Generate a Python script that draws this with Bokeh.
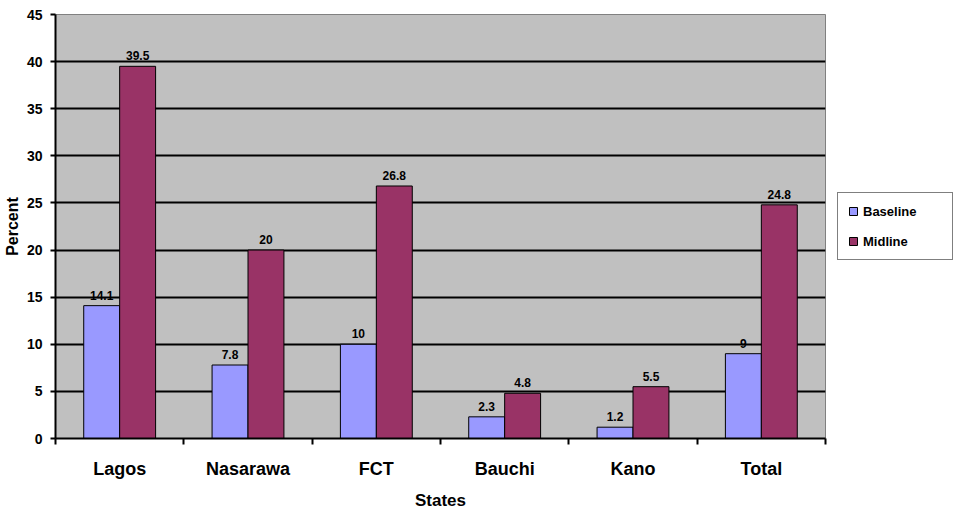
from bokeh.plotting import figure
from bokeh.models import ColumnDataSource, Range1d, FixedTicker, Legend, LegendItem
from bokeh.transform import dodge
from bokeh.core.properties import value
from bokeh.embed import file_html
from bokeh.resources import INLINE

# ---- data ----
categories = ["Lagos", "Nasarawa", "FCT", "Bauchi", "Kano", "Total"]
baseline = [14.1, 7.8, 10, 2.3, 1.2, 9]
midline = [39.5, 20, 26.8, 4.8, 5.5, 24.8]
y_ticks = [0, 5, 10, 15, 20, 25, 30, 35, 40, 45]
series_names = ["Baseline", "Midline"]

FONT = "Liberation Sans"
BASE_COLOR = "#9999FF"
MID_COLOR = "#993366"

xs = [i + 0.5 for i in range(len(categories))]
source = ColumnDataSource(dict(
    x=xs,
    cat=categories,
    baseline=baseline,
    midline=midline,
    baseline_lbl=[f"{v:g}" for v in baseline],
    midline_lbl=[f"{v:g}" for v in midline],
))

p = figure(
    frame_width=770, frame_height=424,
    min_border_left=52, min_border_right=138, min_border_top=14, min_border_bottom=66,
    x_range=Range1d(0, len(categories)), y_range=Range1d(0, 45),
    output_backend="svg", toolbar_location=None,
    background_fill_color="#C0C0C0", border_fill_color="white",
)
p.outline_line_color = "#808080"
p.outline_line_width = 1

bar_w = 0.28
r_base = p.vbar(x=dodge("x", -0.14, range=p.x_range), top="baseline", width=bar_w,
                source=source, fill_color=BASE_COLOR, line_color="black", line_width=1)
r_mid = p.vbar(x=dodge("x", 0.14, range=p.x_range), top="midline", width=bar_w,
               source=source, fill_color=MID_COLOR, line_color="black", line_width=1)

lbl_kw = dict(text_font_size="12px", text_font_style="bold", text_align="center",
              text_baseline="bottom", text_color="black", y_offset=-6)
p.text(x=dodge("x", -0.14, range=p.x_range), y="baseline", text="baseline_lbl",
       source=source, text_font=value(FONT), **lbl_kw)
p.text(x=dodge("x", 0.14, range=p.x_range), y="midline", text="midline_lbl",
       source=source, text_font=value(FONT), **lbl_kw)

# grid
p.xgrid.grid_line_color = None
p.ygrid.ticker = FixedTicker(ticks=y_ticks)
p.ygrid.grid_line_color = "black"
p.ygrid.grid_line_width = 2

# y axis
ya = p.yaxis[0]
ya.ticker = FixedTicker(ticks=y_ticks)
ya.axis_line_width = 2
ya.axis_line_color = "black"
ya.major_tick_line_width = 2
ya.major_tick_line_color = "black"
ya.major_tick_out = 5
ya.major_tick_in = 0
ya.minor_tick_line_color = None
ya.major_label_text_font = FONT
ya.major_label_text_font_style = "bold"
ya.major_label_text_font_size = "14px"
ya.major_label_text_color = "black"
ya.major_label_standoff = 8
ya.axis_label = "Percent"
ya.axis_label_text_font = FONT
ya.axis_label_text_font_style = "bold"
ya.axis_label_text_font_size = "16px"
ya.axis_label_text_color = "black"
ya.axis_label_standoff = 3

# x axis
xa = p.xaxis[0]
xa.ticker = FixedTicker(ticks=xs, minor_ticks=list(range(len(categories) + 1)))
xa.major_label_overrides = {x: c for x, c in zip(xs, categories)}
xa.axis_line_width = 2
xa.axis_line_color = "black"
xa.major_tick_line_color = None
xa.major_tick_out = 0
xa.major_tick_in = 0
xa.minor_tick_line_color = "black"
xa.minor_tick_line_width = 2
xa.minor_tick_out = 6
xa.minor_tick_in = 0
xa.major_label_text_font = FONT
xa.major_label_text_font_style = "bold"
xa.major_label_text_font_size = "18px"
xa.major_label_text_color = "black"
xa.major_label_standoff = 14
xa.axis_label = "States"
xa.axis_label_text_font = FONT
xa.axis_label_text_font_style = "bold"
xa.axis_label_text_font_size = "17px"
xa.axis_label_text_color = "black"
xa.axis_label_standoff = 9

# legend
legend = Legend(
    items=[LegendItem(label=series_names[0], renderers=[r_base]),
           LegendItem(label=series_names[1], renderers=[r_mid])],
    location="center_left",
    orientation="vertical",
    padding=10, spacing=14, margin=12,
    glyph_width=10, glyph_height=10, label_standoff=5,
    label_width=79, label_height=16,
    label_text_font=FONT, label_text_font_style="bold", label_text_font_size="13px",
    label_text_color="black",
    border_line_color="black", border_line_width=1.5,
    background_fill_color="white", background_fill_alpha=1,
)
p.add_layout(legend, "right")

open("out.html", "w").write(file_html(p, INLINE))
